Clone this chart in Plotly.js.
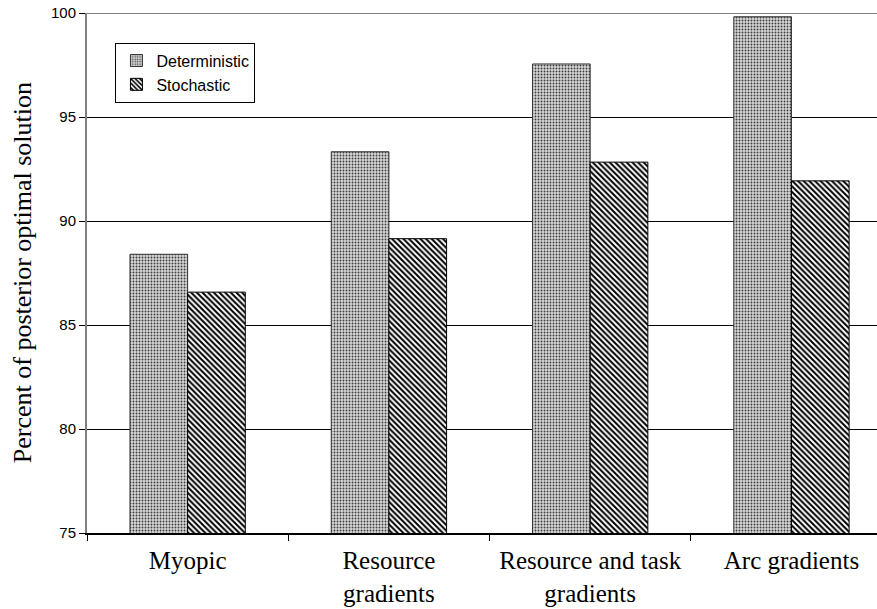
<!DOCTYPE html>
<html>
<head>
<meta charset="utf-8">
<script src="https://cdn.plot.ly/plotly-3.0.1.min.js"></script>
<style>
  html, body { margin: 0; padding: 0; background: #fff; overflow: hidden; }
  #chart { width: 877px; height: 609px; }
</style>
</head>
<body>
<div id="chart"></div>
<script>
// Solution methods compared on the horizontal axis
const categories = ["Myopic", "Resource<br>gradients", "Resource and task<br>gradients", "Arc gradients"];
// Percent of posterior optimal solution for each method
const deterministic = [88.40, 93.33, 97.55, 99.82];
const stochastic = [86.58, 89.15, 92.83, 91.93];
const seriesNames = ["Deterministic", "Stochastic"];
const yTicks = [75, 80, 85, 90, 95, 100];

const serif = "Liberation Serif, Times New Roman, serif";
const sans = "Liberation Sans, Arial, sans-serif";

const traces = [
  {
    type: "bar",
    name: seriesNames[0],
    x: categories,
    y: deterministic,
    marker: {
      color: "#cfcfcf",
      line: { color: "#333", width: 1 },
      pattern: { shape: ".", fgcolor: "#3a3a3a", bgcolor: "#d6d6d6", size: 3, solidity: 0.3 }
    },
    hoverinfo: "y"
  },
  {
    type: "bar",
    name: seriesNames[1],
    x: categories,
    y: stochastic,
    marker: {
      color: "#888",
      line: { color: "#000", width: 1 },
      pattern: { shape: "\\", fgcolor: "#000", bgcolor: "#ffffff", size: 4, solidity: 0.5 }
    },
    hoverinfo: "y"
  }
];

const layout = {
  width: 877,
  height: 609,
  margin: { l: 87, r: 0, t: 13, b: 76, pad: 0 },
  paper_bgcolor: "#fff",
  plot_bgcolor: "#fff",
  barmode: "group",
  bargap: 0.427,
  bargroupgap: 0,
  showlegend: true,
  legend: {
    x: 0.036, y: 0.943, xanchor: "left", yanchor: "top",
    bgcolor: "#fff", bordercolor: "#000", borderwidth: 1,
    font: { family: sans, size: 16, color: "#000" },
    tracegroupgap: 0, itemwidth: 30
  },
  xaxis: {
    type: "category",
    range: [-0.5, 3.425],
    showline: true, linecolor: "#000", linewidth: 2,
    ticks: "outside", tickson: "boundaries", ticklen: 6, tickcolor: "#000", tickwidth: 1,
    ticklabelstandoff: 4,
    showgrid: false, zeroline: false,
    tickfont: { family: serif, size: 25, color: "#000" },
    fixedrange: true
  },
  yaxis: {
    range: [75, 100],
    tickvals: yTicks,
    ticktext: yTicks.map(String),
    showline: true, linecolor: "#808080", linewidth: 2,
    ticks: "outside", ticklen: 6, tickcolor: "#000", tickwidth: 1,
    showgrid: true, gridcolor: "#000", gridwidth: 1,
    zeroline: false,
    tickfont: { family: sans, size: 15, color: "#000" },
    fixedrange: true
  },
  shapes: [
    { type: "line", xref: "paper", yref: "y", x0: 0, x1: 1, y0: 100, y1: 100,
      line: { color: "#808080", width: 2 } }
  ],
  annotations: [
    { text: "Percent of posterior optimal solution", xref: "paper", yref: "paper",
      x: -0.082, y: 0.5, xanchor: "center", yanchor: "middle", textangle: -90,
      showarrow: false, font: { family: serif, size: 26, color: "#000" } }
  ]
};

Plotly.newPlot("chart", traces, layout, { displayModeBar: false, staticPlot: true });
</script>
</body>
</html>
